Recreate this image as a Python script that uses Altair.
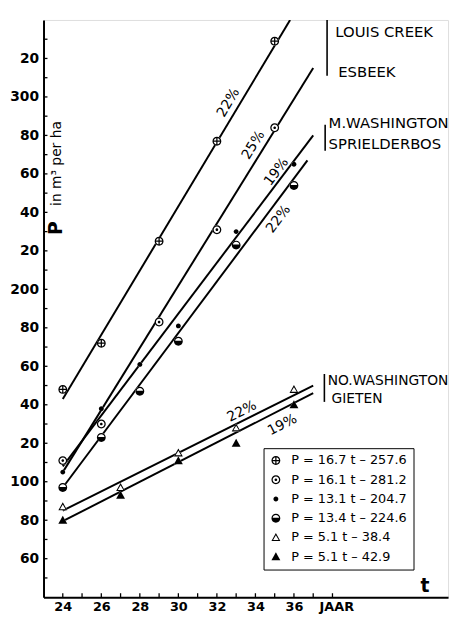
import altair as alt
import pandas as pd

# ---------------- data ----------------
series = ["LC", "ES", "MW", "SP", "NW", "GI"]
equations = ["P = 16.7 t – 257.6", "P = 16.1 t – 281.2", "P = 13.1 t – 204.7",
             "P = 13.4 t – 224.6", "P = 5.1 t – 38.4", "P = 5.1 t – 42.9"]

obs_t = {
    "LC": [24, 26, 29, 32, 35],
    "ES": [24, 26, 29, 32, 35],
    "MW": [24, 26, 28, 30, 33, 36],
    "SP": [24, 26, 28, 30, 33, 36],
    "NW": [24, 27, 30, 33, 36],
    "GI": [24, 27, 30, 33, 36],
}
obs_p = {
    "LC": [148, 172, 225, 277, 329],
    "ES": [111, 130, 183, 231, 284],
    "MW": [105, 138, 161, 181, 230, 265],
    "SP": [97, 123, 147, 173, 223, 254],
    "NW": [87, 97, 115, 128, 148],
    "GI": [80, 93, 111, 120, 140],
}

# fitted lines: start and end as drawn
line_t0 = [24, 24, 24, 24, 24, 24]
line_p0 = [143, 105, 108, 97, 85, 79.5]
line_t1 = [35.8, 37, 37, 36.7, 37, 37]
line_p1 = [340, 315, 280, 267, 150, 146]

# percentage labels along the lines
pct_text = ["22%", "25%", "19%", "22%", "22%", "19%"]
pct_t = [32.6, 33.9, 35.1, 35.2, 33.3, 35.4]
pct_p = [297, 275, 261, 236.5, 136.5, 129.5]
pct_angle = [301, 302, 307, 307, 333, 333]

# site names on the right
name_text = ["LOUIS CREEK", "ESBEEK", "M.WASHINGTON", "SPRIELDERBOS", "NO.WASHINGTON", "GIETEN"]
name_t = [38.15, 38.3, 37.8, 37.8, 37.75, 37.95]
name_p = [333.5, 313, 286.2, 275.4, 152.3, 143]
name_size = [15, 15, 15, 15, 14, 14]

# braces grouping the names
brace_t = [37.72, 37.62, 37.58]
brace_p0 = [340, 285.6, 156]
brace_p1 = [311, 272, 141.5]

x_ticks = list(range(24, 39))
y_ticks = list(range(50, 340, 10))
x_labels = [24, 26, 28, 30, 32, 34, 36, 38.2]
y_labels = list(range(60, 321, 20))

# ---------------- symbols ----------------
ring = ("M-1,0A1,1 0 1,1 1,0A1,1 0 1,1 -1,0Z"
        "M-0.72,0A0.72,0.72 0 1,0 0.72,0A0.72,0.72 0 1,0 -0.72,0Z")
disc = "M-1,0A1,1 0 1,1 1,0A1,1 0 1,1 -1,0Z"
dot = "M-0.55,0A0.55,0.55 0 1,1 0.55,0A0.55,0.55 0 1,1 -0.55,0Z"
tri = "M0,-1L1,0.8L-1,0.8Z"
sym_paths = [
    ring + "M-0.72,-0.14L0.72,-0.14L0.72,0.14L-0.72,0.14Z"
           "M-0.14,-0.72L0.14,-0.72L0.14,0.72L-0.14,0.72Z",
    ring + "M-0.3,0A0.3,0.3 0 1,1 0.3,0A0.3,0.3 0 1,1 -0.3,0Z",
    dot,
    disc + "M0.72,-0.12A0.73,0.73 0 0,0 -0.72,-0.12Z",
    tri + "M0,-0.5L-0.62,0.55L0.62,0.55Z",
    tri,
]
bg_paths = [disc, disc, dot, disc, tri, tri]

# ---------------- tables ----------------
rows = []
for s, eq in zip(series, equations):
    for t, p in zip(obs_t[s], obs_p[s]):
        rows.append({"series": s, "eq": eq, "t": t, "p": p})
pts = pd.DataFrame(rows)

lrows = []
for s, a, b, c, d in zip(series, line_t0, line_p0, line_t1, line_p1):
    lrows.append({"series": s, "t": a, "p": b, "o": 0})
    lrows.append({"series": s, "t": c, "p": d, "o": 1})
lines_df = pd.DataFrame(lrows)

pct_df = pd.DataFrame({"txt": pct_text, "t": pct_t, "p": pct_p, "angle": pct_angle})
name_df = pd.DataFrame({"txt": name_text, "t": name_t, "p": name_p, "size": name_size})
brace_df = pd.DataFrame({"t": brace_t, "p": brace_p0, "p2": brace_p1})
xt_df = pd.DataFrame({"t": x_ticks})
yt_df = pd.DataFrame({"p": y_ticks})

FONT = "DejaVu Sans"
W, H = 410, 585
xs = alt.Scale(domain=[23, 44], nice=False, zero=False)
ys = alt.Scale(domain=[40, 340], nice=False, zero=False)

xax = alt.Axis(values=x_labels, labelExpr="datum.value > 37 ? 'JAAR' : datum.label",
               ticks=False, grid=False, domainColor="black", domainWidth=2,
               labelFont=FONT, labelFontSize=13, labelFontWeight="bold",
               labelColor="black", labelPadding=3,
               labelFlush=False, labelOverlap=False,
               title="t", titleX=386, titleY=-2, titleAlign="center", titleBaseline="bottom",
               titleFont=FONT, titleFontSize=19, titleFontWeight="bold", titleColor="black")
yax = alt.Axis(values=y_labels,
               labelExpr="datum.value % 100 == 0 ? datum.label : '' + (datum.value % 100)",
               ticks=False, grid=False, domainColor="black", domainWidth=2,
               labelFont=FONT, labelFontSize=14, labelFontWeight="bold",
               labelColor="black", labelPadding=5,
               labelOverlap=False,
               title="in m³ per ha", titleAngle=270, titleX=13, titleY=145,
               titleAlign="center", titleBaseline="middle",
               titleFont=FONT, titleFontSize=14, titleFontWeight="normal", titleColor="black")

X = alt.X("t:Q", scale=xs, axis=xax)
Y = alt.Y("p:Q", scale=ys, axis=yax)

lines = alt.Chart(lines_df).mark_line(color="black", strokeWidth=2, clip=True).encode(
    x=X, y=Y, detail="series:N", order="o:Q")

bg = alt.Chart(pts).mark_point(filled=True, color="white", strokeWidth=0, size=81, opacity=1).encode(
    x=X, y=Y,
    shape=alt.Shape("eq:N", scale=alt.Scale(domain=equations, range=bg_paths), legend=None))

fg = alt.Chart(pts).mark_point(filled=True, color="black", strokeWidth=0, size=81, opacity=1).encode(
    x=X, y=Y,
    shape=alt.Shape("eq:N", scale=alt.Scale(domain=equations, range=sym_paths),
                    legend=alt.Legend(orient="none", legendX=223, legendY=434, title=None,
                                      strokeColor="black", padding=6, rowPadding=5.5,
                                      labelFont=FONT, labelFontSize=13, labelColor="black",
                                      labelOffset=9, labelLimit=300,
                                      symbolSize=81, symbolFillColor="black",
                                      symbolStrokeWidth=0, symbolOpacity=1)))

xt = alt.Chart(xt_df).mark_rule(color="black", strokeWidth=1.3).encode(
    x=X, y=alt.value(H), y2=alt.value(H - 4))
yt = alt.Chart(yt_df).mark_rule(color="black", strokeWidth=1.3).encode(
    y=Y, x=alt.value(0), x2=alt.value(4))

ptitle = alt.Chart(pd.DataFrame({"txt": ["P"]})).mark_text(
    font=FONT, fontSize=19, fontWeight="bold", color="black", angle=270,
    align="center", baseline="middle").encode(
    text="txt:N", x=alt.value(13), y=alt.value(211))

pct = alt.Chart(pct_df).mark_text(font=FONT, fontSize=14, color="black",
                                  align="center", baseline="middle").encode(
    x=X, y=Y, text="txt:N", angle=alt.Angle("angle:Q", scale=None))

names = alt.Chart(name_df).mark_text(font=FONT, color="black", align="left",
                                     baseline="middle").encode(
    x=X, y=Y, text="txt:N", size=alt.Size("size:Q", scale=None))

braces = alt.Chart(brace_df).mark_rule(color="black", strokeWidth=1.6).encode(
    x=X, y=Y, y2="p2:Q")

chart = alt.layer(lines, bg, fg, xt, yt, ptitle, pct, names, braces).resolve_scale(
    shape="independent"
).properties(
    width=W, height=H,
    padding={"left": 36, "top": 8, "right": 4, "bottom": 20},
    autosize=alt.AutoSizeParams(type="none"),
    background="white",
).configure_view(strokeWidth=0).configure_legend(strokeWidth=1.8).configure(font=FONT)

chart.save("out.html", embed_options={"renderer": "svg", "actions": False})
